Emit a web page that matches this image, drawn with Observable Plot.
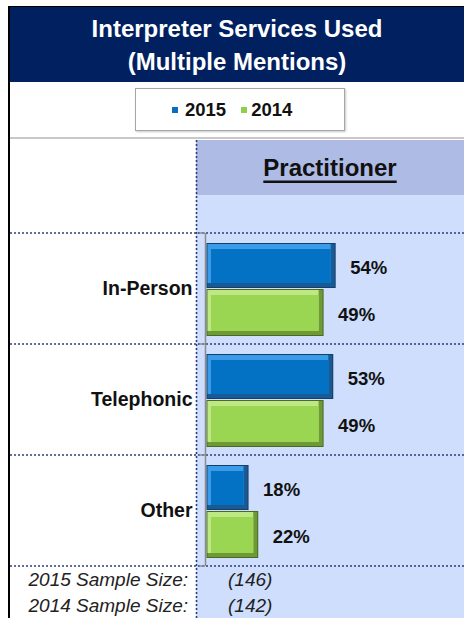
<!DOCTYPE html>
<html>
<head>
<meta charset="utf-8">
<script src="https://cdn.jsdelivr.net/npm/d3@7"></script>
<script src="https://cdn.jsdelivr.net/npm/@observablehq/plot@0.6"></script>
<style>
  html, body { margin: 0; padding: 0; background: #fff; }
  #wrap { position: relative; width: 464px; height: 618px; overflow: hidden; background: #fff;
          font-family: "Liberation Sans", Arial, sans-serif; }
  #header { position: absolute; left: 10px; top: 7px; width: 454px; height: 70px; padding-top: 5px;
            background: #002060; color: #fff; font-weight: bold; font-size: 24px; line-height: 33px;
            text-align: center; }
  #legend { position: absolute; left: 135px; top: 88px;
            border: 1px solid #a6a6a6; box-shadow: 1px 1px 2px #c8c8c8; background: #fff;
            display: flex; align-items: center; padding-left: 36px; box-sizing: border-box; width: 210px; height: 43px;
            font-weight: bold; font-size: 18.5px; color: #111; }
  .sw { display: inline-block; width: 6px; height: 6px; }
  #chart { position: absolute; left: 0; top: 137px; }
  #border { position: absolute; left: 8px; top: 7px; width: 2px; height: 611px; background: #000; }
  #topline { position: absolute; left: 8px; top: 6px; width: 456px; height: 1px; background: #000; }
</style>
</head>
<body>
<div id="wrap">
  <div id="header"></div>
  <div id="legend"></div>
  <div id="chart"></div>
  <div id="border"></div>
  <div id="topline"></div>
</div>
<script>
// ---- data ----
const titleLines = ["Interpreter Services Used", "(Multiple Mentions)"];
const columnTitle = "Practitioner";
const categories = ["In-Person", "Telephonic", "Other"];
const years = ["2015", "2014"];
const values2015 = [54, 53, 18];
const values2014 = [49, 49, 22];
const sampleLabels = ["2015 Sample Size:", "2014 Sample Size:"];
const sampleSizes = ["(146)", "(142)"];

const data = categories.flatMap((c, i) => [
  {category: c, year: "2015", value: values2015[i]},
  {category: c, year: "2014", value: values2014[i]}
]);

// ---- styles ----
const palette = {
  "2015": {edge: "#123f6b", dark: "#1a5a94", light: "#3a9ce8", main: "#0472c4"},
  "2014": {edge: "#4a6a22", dark: "#6e9a36", light: "#bde884", main: "#9bd653"}
};
const legendColor = {"2015": "#0a6ebd", "2014": "#8fcf4e"};
const geom = {"2015": {t: 10, b: 56}, "2014": {t: 56, b: 8}};
const fontFamily = '"Liberation Sans", Arial, sans-serif';

// header
document.getElementById("header").innerHTML = titleLines.map(s => `<div>${s}</div>`).join("");

// legend
document.getElementById("legend").innerHTML = years.map((y, i) =>
  `<span class="sw" style="background:${legendColor[y]};margin-right:${i === 0 ? 7 : 4}px"></span>` +
  `<span style="margin-right:${i === 0 ? 15 : 0}px">${y}</span>`).join("");

function barLayers(year) {
  const g = geom[year], p = palette[year];
  const rows = data.filter(d => d.year === year);
  const base = {x: "value", y: "category"};
  return [
    Plot.barX(rows, {...base, fill: p.edge, insetTop: g.t, insetBottom: g.b, insetLeft: 1.5, insetRight: 0}),
    Plot.barX(rows, {...base, fill: p.dark, insetTop: g.t + 1, insetBottom: g.b + 1, insetLeft: 2.5, insetRight: 1}),
    Plot.barX(rows, {...base, fill: p.light, insetTop: g.t + 1, insetBottom: g.b + 5, insetLeft: 2.5, insetRight: 5}),
    Plot.barX(rows, {...base, fill: p.main, insetTop: g.t + 6, insetBottom: g.b + 5, insetLeft: 6, insetRight: 5})
  ];
}

const chart = Plot.plot({
  width: 464,
  height: 481,
  marginLeft: 205,
  marginRight: 17,
  marginTop: 96,
  marginBottom: 52,
  x: {domain: [0, 100], axis: null},
  y: {domain: categories, padding: 0, axis: null},
  style: {fontFamily, background: "transparent", overflow: "visible"},
  marks: [
    Plot.axisY({tickSize: 0, tickPadding: 13, fontSize: 19.5, fontWeight: "bold", fill: "#111", label: null}),
    Plot.ruleX([0], {stroke: "#8c8c8c", strokeWidth: 1.5}),
    ...barLayers("2015"),
    ...barLayers("2014"),
    Plot.text(data.filter(d => d.year === "2015"), {x: "value", y: "category", text: d => d.value + "%",
      dx: 14, dy: -21, textAnchor: "start", fontSize: 18.5, fontWeight: "bold", fill: "#111"}),
    Plot.text(data.filter(d => d.year === "2014"), {x: "value", y: "category", text: d => d.value + "%",
      dx: 14, dy: 26, textAnchor: "start", fontSize: 18.5, fontWeight: "bold", fill: "#111"})
  ]
});
document.getElementById("chart").appendChild(chart);

// ---- decorations using the plot's scales ----
const svg = d3.select(chart);
const ys = chart.scale("y");
const bw = ys.bandwidth;
const boundaries = categories.map(c => ys.apply(c)).concat([ys.apply(categories[categories.length - 1]) + bw]);
const colX = 196;
const W = 464, H = 481;
const bg = svg.insert("g", ":first-child");
bg.append("rect").attr("x", colX).attr("y", 3).attr("width", W - colX).attr("height", 55).attr("fill", "#aebbe4");
bg.append("rect").attr("x", colX).attr("y", 58).attr("width", W - colX).attr("height", H - 58).attr("fill", "#cedefc");
bg.append("rect").attr("x", 10).attr("y", 0).attr("width", W - 10).attr("height", 2).attr("fill", "#c8c8c8");
bg.append("line").attr("x1", colX + 0.5).attr("x2", colX + 0.5).attr("y1", 3).attr("y2", H)
  .attr("stroke", "#2b3f7a").attr("stroke-width", 1.6).attr("stroke-dasharray", "2,2");
boundaries.forEach(b => {
  bg.append("line").attr("x1", 10).attr("x2", W).attr("y1", b).attr("y2", b)
    .attr("stroke", "#2b3f7a").attr("stroke-width", 1.6).attr("stroke-dasharray", "2,2");
  bg.append("line").attr("x1", 199).attr("x2", 205).attr("y1", b).attr("y2", b)
    .attr("stroke", "#8c8c8c").attr("stroke-width", 1.5);
});
// column title with a thick underline
const ct = svg.append("text").attr("x", (colX + W) / 2).attr("y", 39).attr("text-anchor", "middle")
  .attr("font-size", 24).attr("font-weight", "bold").attr("fill", "#111").text(columnTitle);
const tw = ct.node().getComputedTextLength();
svg.append("rect").attr("x", (colX + W) / 2 - tw / 2).attr("y", 43.5).attr("width", tw).attr("height", 2.5).attr("fill", "#111");
// sample sizes
sampleLabels.forEach((s, i) => {
  const yb = boundaries[boundaries.length - 1] + 20 + i * 26;
  svg.append("text").attr("x", 188).attr("y", yb).attr("text-anchor", "end")
    .attr("font-size", 19).attr("font-style", "italic").attr("fill", "#222").text(s);
  svg.append("text").attr("x", 228).attr("y", yb).attr("text-anchor", "start")
    .attr("font-size", 19).attr("font-style", "italic").attr("fill", "#222").text(sampleSizes[i]);
});
</script>
</body>
</html>
